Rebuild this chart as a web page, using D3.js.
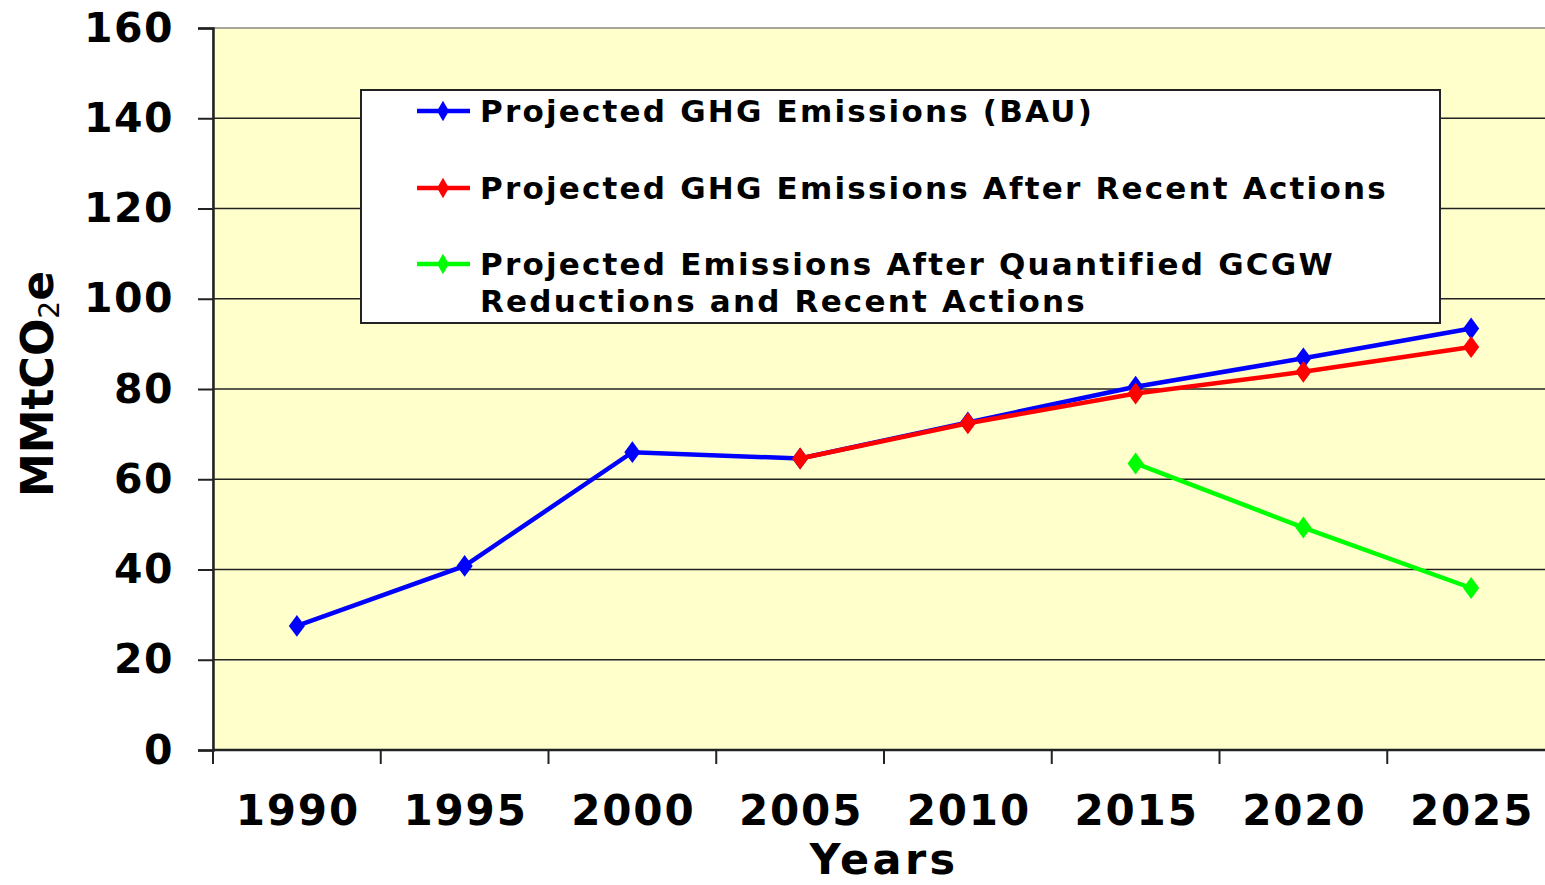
<!DOCTYPE html>
<html>
<head>
<meta charset="utf-8">
<script src="https://cdn.jsdelivr.net/npm/d3@7"></script>
<style>
  body { margin: 0; background: #fff; }
  text { font-family: "DejaVu Sans", Verdana, sans-serif; font-weight: bold; }
</style>
</head>
<body>
<div id="chart"></div>
<script>
// chart data
const years = ["1990", "1995", "2000", "2005", "2010", "2015", "2020", "2025"]
const bau = [27.5, 40.8, 66.0, 64.6, 72.6, 80.5, 86.8, 93.4]
const recentActions = [null, null, null, 64.6, 72.4, 79.0, 83.8, 89.3]
const gcgw = [null, null, null, null, null, 63.5, 49.3, 35.9]
const yTicks = [0, 20, 40, 60, 80, 100, 120, 140, 160]

const seriesNames = [
    ["Projected GHG Emissions (BAU)"],
    ["Projected GHG Emissions After Recent Actions"],
    ["Projected Emissions After Quantified GCGW", "Reductions and Recent Actions"]
]
const seriesColors = ["#0000ff", "#ff0000", "#00ff00"]

const width = 1545, height = 885
const plot = {left: 213, top: 28, bottom: 750, right: 213 + 8 * 167.75}

const svg = d3.select("#chart").append("svg")
    .attr("width", width)
    .attr("height", height)

const x = d3.scaleBand().domain(years).range([plot.left, plot.right])
const y = d3.scaleLinear().domain([0, 160]).range([plot.bottom, plot.top])

// plot background
svg.append("rect")
    .attr("x", plot.left).attr("y", plot.top)
    .attr("width", plot.right - plot.left).attr("height", plot.bottom - plot.top)
    .attr("fill", "#ffffcc")
    .attr("stroke", "#888").attr("stroke-width", 1.5)

// gridlines
svg.append("g").selectAll("line")
    .data(yTicks.slice(1, -1))
    .join("line")
    .attr("x1", plot.left).attr("x2", plot.right)
    .attr("y1", d => y(d)).attr("y2", d => y(d))
    .attr("stroke", "#222").attr("stroke-width", 1.5)

// y axis
const yAxis = svg.append("g")
    .attr("transform", `translate(${plot.left},0)`)
    .call(d3.axisLeft(y).tickValues(yTicks).tickSize(15).tickPadding(24))
yAxis.select(".domain").attr("stroke", "#222").attr("stroke-width", 2.5)
yAxis.selectAll(".tick line").attr("stroke", "#222").attr("stroke-width", 2)
yAxis.selectAll(".tick text")
    .attr("fill", "#000")
    .style("font-size", "41px")
    .style("letter-spacing", "1.5px")
    .style("font-family", "DejaVu Sans, Verdana, sans-serif")
    .style("font-weight", "bold")

// x axis: ticks between categories
const xAxisG = svg.append("g")
    .attr("transform", `translate(0,${plot.bottom})`)
xAxisG.append("line")
    .attr("x1", plot.left).attr("x2", plot.right)
    .attr("stroke", "#222").attr("stroke-width", 2.5)
xAxisG.selectAll("line.tick")
    .data(years)
    .join("line")
    .attr("class", "tick")
    .attr("x1", d => x(d)).attr("x2", d => x(d))
    .attr("y1", 0).attr("y2", 14)
    .attr("stroke", "#222").attr("stroke-width", 2)
xAxisG.selectAll("text")
    .data(years)
    .join("text")
    .attr("x", d => x(d) + x.bandwidth() / 2 + 1)
    .attr("y", 75)
    .attr("text-anchor", "middle")
    .style("font-size", "42px")
    .style("letter-spacing", "1.8px")
    .text(d => d)

// axis titles
svg.append("text")
    .attr("x", 884).attr("y", 874)
    .attr("text-anchor", "middle")
    .style("font-size", "43px")
    .style("letter-spacing", "3.4px")
    .text("Years")

const yTitle = svg.append("text")
    .attr("transform", "translate(53,384) rotate(-90)")
    .attr("text-anchor", "middle")
    .style("font-size", "44px")
yTitle.append("tspan").text("MMtCO")
yTitle.append("tspan").attr("dy", 6).style("font-size", "28px").style("font-weight", "normal").text("2")
yTitle.append("tspan").attr("dy", -6).text("e")

// lines
const diamond = d3.symbol().type(d3.symbolDiamond).size(170)
const allSeries = [bau, recentActions, gcgw]

allSeries.forEach((vals, i) => {
    const pts = years.map((yr, j) => ({yr, v: vals[j]})).filter(d => d.v != null)
    const line = d3.line()
        .x(d => x(d.yr) + x.bandwidth() / 2)
        .y(d => y(d.v))
    svg.append("path")
        .datum(pts)
        .attr("d", line)
        .attr("fill", "none")
        .attr("stroke", seriesColors[i])
        .attr("stroke-width", 4.5)
    svg.append("g").selectAll("path")
        .data(pts)
        .join("path")
        .attr("d", diamond)
        .attr("transform", d => `translate(${x(d.yr) + x.bandwidth() / 2},${y(d.v)}) scale(1.15,0.9)`)
        .attr("fill", seriesColors[i])
})

// legend
const legend = svg.append("g")
legend.append("rect")
    .attr("x", 361).attr("y", 90)
    .attr("width", 1079).attr("height", 233)
    .attr("fill", "#fff")
    .attr("stroke", "#222").attr("stroke-width", 2)

const legendRows = [111, 188, 264]
seriesNames.forEach((lines, i) => {
    const ly = legendRows[i]
    legend.append("line")
        .attr("x1", 417).attr("x2", 470)
        .attr("y1", ly).attr("y2", ly)
        .attr("stroke", seriesColors[i]).attr("stroke-width", 4.5)
    legend.append("path")
        .attr("d", diamond)
        .attr("transform", `translate(443,${ly}) scale(0.85,0.85)`)
        .attr("fill", seriesColors[i])
    lines.forEach((t, k) => {
        legend.append("text")
            .attr("x", 480)
            .attr("y", ly + 11 + k * 37)
            .style("font-size", "31px")
            .style("letter-spacing", "2.2px")
            .text(t)
    })
})
</script>
</body>
</html>
